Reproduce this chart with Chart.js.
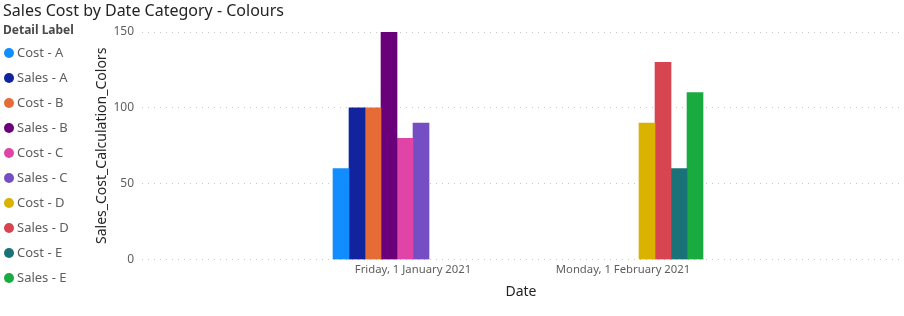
<!DOCTYPE html>
<html>
<head>
<meta charset="utf-8">
<script src="https://cdn.jsdelivr.net/npm/chart.js@4/dist/chart.umd.min.js"></script>
<style>
  body { margin: 0; background: #fff; }
  #wrap { width: 904px; height: 316px; position: relative; }
</style>
</head>
<body>
<div id="wrap"><canvas id="myChart"></canvas></div>
<script>
// data
var dateLabels = ['Friday, 1 January 2021', 'Monday, 1 February 2021'];
var seriesNames = ['Cost - A', 'Sales - A', 'Cost - B', 'Sales - B', 'Cost - C',
  'Sales - C', 'Cost - D', 'Sales - D', 'Cost - E', 'Sales - E'];
var seriesColors = ['#118DFF', '#12239E', '#E66C37', '#6B007B', '#E044A7',
  '#744EC2', '#D9B300', '#D64550', '#197278', '#1AAB40'];
// one row per series: [January, February]
var seriesValues = [
  [60, null],
  [100, null],
  [100, null],
  [150, null],
  [80, null],
  [90, null],
  [null, 90],
  [null, 130],
  [null, 60],
  [null, 110]
];
var yTicks = [0, 50, 100, 150];

var fontFam = "'Noto Sans', 'Open Sans', sans-serif";
var grey = '#605E5C';

var datasets = [];
for (var i = 0; i < seriesNames.length; i++) {
  datasets.push({
    label: seriesNames[i],
    data: seriesValues[i].map(function (v, j) { return { x: j, y: v }; }),
    backgroundColor: seriesColors[i],
    borderWidth: 0,
    barThickness: 16
  });
}

// legend on the left, drawn like the Power BI one
var sideLegend = {
  id: 'sideLegend',
  afterDraw: function (chart) {
    var c = chart.ctx;
    c.save();
    c.textBaseline = 'middle';
    c.textAlign = 'left';
    c.fillStyle = '#4a4a4a';
    c.font = 'bold 12px ' + fontFam;
    c.fillText('Detail Label', 3, 31);
    c.font = '13px ' + fontFam;
    chart.data.datasets.forEach(function (ds, k) {
      var y = 53 + k * 25;
      c.fillStyle = ds.backgroundColor;
      c.beginPath();
      c.arc(9, y, 5, 0, Math.PI * 2);
      c.fill();
      c.fillStyle = grey;
      c.fillText(ds.label, 17, y + 0.5);
    });
    c.restore();
  }
};

var ctx = document.getElementById('myChart').getContext('2d');
var chart = new Chart(ctx, {
  type: 'bar',
  data: { datasets: datasets },
  plugins: [sideLegend],
  options: {
    responsive: true,
    maintainAspectRatio: false,
    animation: false,
    layout: { padding: { left: 3, right: 4, top: 2, bottom: 16 } },
    plugins: {
      tooltip: { enabled: false },
      legend: { display: false },
      title: {
        display: true,
        text: 'Sales Cost by Date Category - Colours',
        align: 'start',
        color: '#252423',
        font: { family: fontFam, size: 16, weight: 'normal' },
        padding: { top: 0, bottom: 10.8 }
      }
    },
    scales: {
      x: {
        type: 'linear',
        offset: false,
        min: -1.2905,
        max: 2.319,
        afterBuildTicks: function (s) {
          s.ticks = dateLabels.map(function (l, j) { return { value: j }; });
        },
        ticks: {
          autoSkip: false,
          maxRotation: 0,
          padding: 3,
          color: grey,
          font: { family: fontFam, size: 11.3 },
          callback: function (v) { return dateLabels[v]; }
        },
        grid: { display: false, drawTicks: false },
        border: { display: false },
        title: {
          display: true,
          text: 'Date',
          color: '#252423',
          font: { family: fontFam, size: 14 },
          padding: { top: 4, bottom: 0 }
        }
      },
      y: {
        min: 0,
        max: 150,
        afterBuildTicks: function (s) {
          s.ticks = yTicks.map(function (v) { return { value: v }; });
        },
        afterFit: function (s) { s.width = 139; },
        ticks: {
          color: grey,
          font: { family: fontFam, size: 12 },
          padding: 8
        },
        grid: { color: '#C8C6C4', drawTicks: false },
        border: { display: false, dash: [1, 5] },
        title: {
          display: true,
          text: 'Sales_Cost_Calculation_Colors',
          color: '#252423',
          font: { family: fontFam, size: 14 },
          padding: { top: 90.6, bottom: 0 }
        }
      }
    }
  }
});
</script>
</body>
</html>
